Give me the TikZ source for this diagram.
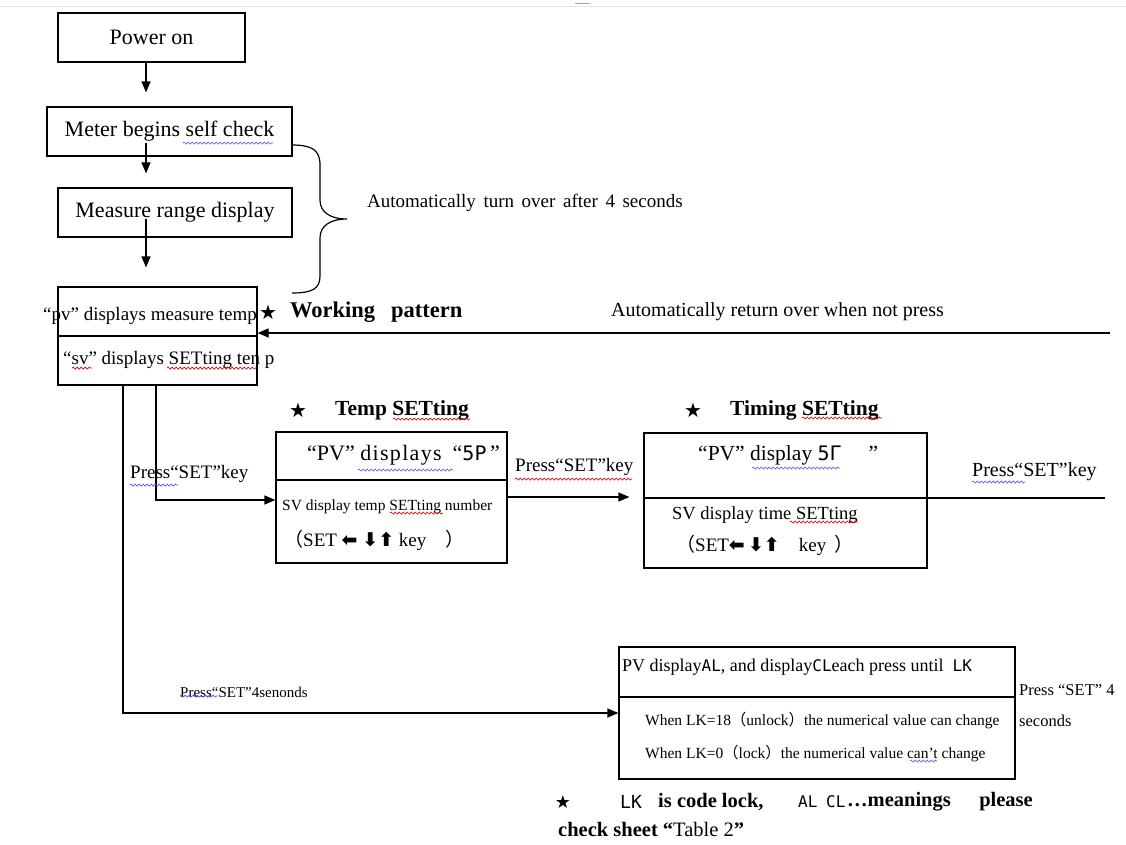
\documentclass[tikz,border=0pt]{standalone}
\usepackage{fontspec}
\usepackage{graphicx}
\setmainfont{Liberation Serif}
\newfontfamily\sym{DejaVu Sans}
\newfontfamily\seg{DejaVu Sans Mono}
\newfontfamily\cjk{Noto Sans CJK SC}
\usetikzlibrary{arrows.meta,decorations.pathmorphing}
\newcommand{\fs}[1]{\fontsize{#1}{#1}\selectfont}
\tikzset{
  box/.style={draw, line width=1.2pt, inner sep=0pt},
  arr/.style={line width=1.2pt, -{Triangle[length=11pt,width=9pt]}},
  ln/.style={line width=1.2pt},
  txt/.style={inner sep=0pt, anchor=west},
  ctxt/.style={inner sep=0pt},
  wred/.style={draw=red!85!black, line width=0.7pt, decorate, decoration={snake, amplitude=1pt, segment length=4pt}},
  wblue/.style={draw=blue!65, line width=0.7pt, decorate, decoration={snake, amplitude=1pt, segment length=4pt}},
}
\begin{document}
\begin{tikzpicture}[x=1pt,y=-1pt]
\useasboundingbox (0,0) rectangle (1126,844);
\fill[white] (0,0) rectangle (1126,844);
% faint top rule
\draw[gray!20, line width=1pt] (0,6) -- (1126,6);
\draw[gray!70, line width=1pt] (575,3) -- (590,3);

% boxes
\node[box, minimum width=187pt, minimum height=49pt, font=\fs{22}] (power) at (151.5,37.5) {Power on};
\node[box, minimum width=245pt, minimum height=49pt, font=\fs{22}] (meter) at (169.5,131.5) {Meter begins self check};
\node[box, minimum width=234pt, minimum height=49pt, font=\fs{22}] (measure) at (175,212.5) {Measure range display};
\node[box, minimum width=199pt, minimum height=98pt] (main) at (157.5,336) {};
\node[box, minimum width=231pt, minimum height=131pt] (temp) at (391.5,497.5) {};
\node[box, minimum width=283pt, minimum height=135pt] (timing) at (785.5,500.5) {};
\node[box, minimum width=396pt, minimum height=132pt] (al) at (817,713) {};

% dividers
\draw[ln] (main.west) -- (main.east);
\draw[ln] ([yshift=17.5pt]temp.west) -- ([yshift=17.5pt]temp.east);
\coordinate (tend) at (1105,498);
\draw[ln] ([yshift=2.5pt]timing.west) -- ([yshift=2.5pt]timing.east) -- (tend);
\draw[ln] ([yshift=16pt]al.west) -- ([yshift=16pt]al.east);

% vertical arrows
\draw[arr, shorten >=14pt] ([xshift=-5.5pt]power.south) -- ([xshift=-23.5pt]meter.north);
\draw[arr, shorten >=14pt] ([xshift=-23.5pt,yshift=14pt]meter.south) -- ([xshift=-29pt]measure.north);
\draw[arr, shorten >=19pt] ([xshift=-29pt,yshift=19pt]measure.south) -- ([xshift=-11.5pt]main.north);

% brace
\draw[line width=1.2pt] (292,145) .. controls (312,145) and (320,150) .. (320,165) -- (320,200)
  .. controls (320,212) and (330,219) .. (347,219)
  .. controls (330,219) and (320,226) .. (320,238) -- (320,276)
  .. controls (320,289) and (312,293) .. (292,293);

% return arrow
\coordinate (ret) at (1110,333);
\draw[arr] (ret) -- ([yshift=3pt]main.east);

% flow lines
\draw[arr] ([xshift=-34.5pt]main.south) |- (al.west);
\draw[arr] ([xshift=-1.5pt]main.south) |- ([yshift=-2.5pt]temp.west);
\draw[arr, shorten >=14pt] ([yshift=0.5pt]temp.east) -- ([yshift=3.5pt]timing.west);

% box texts
\node[txt, font=\fs{19}] (pvt) at (43,316) {“pv” displays measure temp};
\node[txt, font=\fs{19}] (svt) at (63,360) {“sv” displays SETting ten p};
\node[txt, font=\fs{22}] (t1) at (307,455) {“PV” {\addfontfeature{LetterSpace=6}displays} \ “{\seg\fs{20}5P}\,”};
\node[txt, font=\fs{15.5}] (t2) at (282,507) {SV display temp SETting number};
\node[txt, font=\fs{19}] (t3) at (284,540) {{\cjk （}SET {\sym\bfseries ⬅} {\sym\bfseries ⬇⬆} key\quad{\cjk ）}};
\node[txt, font=\fs{21.5}] (g1) at (698,455) {“PV” display {\seg\fs{20}5Γ}\quad\ ”};
\node[txt, font=\fs{18.5}] (g2) at (672,515) {SV display time SETting};
\node[txt, font=\fs{19}] (g3) at (676,545) {{\cjk （}SET{\sym\bfseries ⬅}\,{\sym\bfseries ⬇⬆}\quad key\ \,{\cjk ）}};
\node[txt, font=\fs{18}] (a1) at (622,667) {PV display{\seg\fs{16}AL}, and display{\seg\fs{16}CL}each press until\ \ {\seg\fs{16}LK}};
\node[txt, font=\fs{15.5}] (a2) at (645,721) {When LK=18{\cjk （}unlock{\cjk ）}the numerical value can change};
\node[txt, font=\fs{15.5}] (a3) at (645,754) {When LK=0{\cjk （}lock{\cjk ）}the numerical value can't change};

% labels
\node[txt, font=\fs{19}] (auto1) at (367,203) {{\spaceskip=7.6pt Automatically turn over after 4 seconds}};
\node[txt, font=\fs{20}] (auto2) at (611,312) {Automatically return over when not press};
\node[ctxt, font=\sym\fs{20}] (s1) at (268,312) {★};
\node[txt, font=\bfseries\fs{22.5}] (work) at (290,312) {Working\hspace{16pt}pattern};
\node[ctxt, font=\sym\fs{20}] (s2) at (298,410) {★};
\node[txt, font=\bfseries\fs{21.5}] (theadt) at (335,410) {Temp SETting};
\node[ctxt, font=\sym\fs{20}] (s3) at (693,410) {★};
\node[txt, font=\bfseries\fs{21.5}] (gheadt) at (730,410) {Timing SETting};
\node[txt, font=\fs{19}] (p1) at (130,474) {Press“SET”key};
\node[txt, font=\fs{19}] (p2) at (515,467) {Press“SET”key};
\node[txt, font=\fs{20}] (p3) at (972,472) {Press“SET”key};
\node[txt, font=\fs{15}] (p4) at (180,692) {Press“SET”4senonds};
\node[txt, font=\fs{16.5}] (p5) at (1019,690) {Press “SET” 4};
\node[txt, font=\fs{16.5}] (p6) at (1019,721) {seconds};

% bottom note
\node[ctxt, font=\sym\fs{18}] (s4) at (563,802) {★};
\node[txt, font=\seg\fs{18}] (n1) at (620,802) {LK};
\node[txt, font=\bfseries\fs{20.5}] (n2) at (658,802) {is code lock,};
\node[txt, font=\seg\fs{16}] (n3) at (798,802) {AL};
\node[txt, font=\seg\fs{16}] (n4) at (826,802) {CL};
\node[txt, font=\bfseries\fs{20.5}] (n5) at (847,802) {…meanings};
\node[txt, font=\bfseries\fs{20.5}, anchor=east] (n6) at (1033,802) {please};
\node[txt, font=\fs{20.5}] (n7) at (558,829) {\textbf{check sheet “}Table 2\textbf{”}};

% spell-check squiggles
\draw[wblue] (183,143) -- (273,143);
\draw[wred] (72,368) -- (92,368);
\draw[wred] (167,368) -- (257,368);
\draw[wred] (393,419) -- (470,419);
\draw[wblue] (358,470) -- (453,470);
\draw[wblue] (130,485) -- (178,485);
\draw[wred] (390,513) -- (443,513);
\draw[wred] (515,479) -- (632,479);
\draw[wred] (802,418) -- (882,418);
\draw[wblue] (752,468) -- (840,468);
\draw[wred] (790,522) -- (858,522);
\draw[wblue] (972,482) -- (1025,482);
\draw[wblue] (180,696) -- (218,696);
\draw[wblue] (910,761) -- (937,761);
\end{tikzpicture}
\end{document}
